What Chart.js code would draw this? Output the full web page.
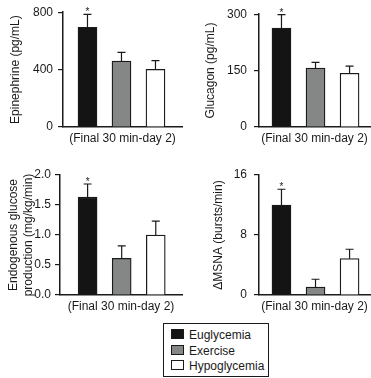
<!DOCTYPE html>
<html>
<head>
<meta charset="utf-8">
<script src="https://cdn.jsdelivr.net/npm/chart.js@4"></script>
<style>
  body { margin: 0; width: 371px; height: 378px; position: relative; overflow: hidden; background: #fff;
         font-family: "Liberation Sans", Arial, Helvetica, sans-serif; color: #1a1a1a; }
  canvas { position: absolute; }
  #legend { position: absolute; left: 163px; top: 323px; width: 106px; height: 54px; border: 1px solid #1a1a1a;
            box-sizing: border-box; padding: 4px 0 0 7px; font-size: 12px; }
  #legend div { height: 15.5px; line-height: 15.5px; white-space: nowrap; }
  #legend span.sw { display: inline-block; width: 11px; height: 8px; border: 1px solid #1a1a1a;
                    margin-right: 5px; vertical-align: 0px; }
</style>
</head>
<body>
<canvas id="epi" width="185" height="155" style="left:0;top:0"></canvas>
<canvas id="glu" width="186" height="155" style="left:185px;top:0"></canvas>
<canvas id="egp" width="185" height="160" style="left:0;top:160px"></canvas>
<canvas id="msna" width="186" height="160" style="left:185px;top:160px"></canvas>
<div id="legend"></div>
<script>
// groups (bars) in each panel
const groups = ['Euglycemia', 'Exercise', 'Hypoglycemia'];
const groupColors = ['#141414', '#858786', '#ffffff'];
const starred = [true, false, false];
const xTitle = '(Final 30 min-day 2)';

// panel values (mean and +SE)
const epinephrine = [695, 460, 402];
const epinephrineErr = [90, 60, 60];
const epinephrineTicks = [0, 400, 800];

const glucagon = [263, 157, 143];
const glucagonErr = [36, 15, 19];
const glucagonTicks = [0, 150, 300];

const egp = [1.63, 0.61, 1.0];
const egpErr = [0.22, 0.21, 0.23];
const egpTicks = [0, 0.5, 1.0, 1.5, 2.0];

const msna = [12.0, 1.05, 4.85];
const msnaErr = [2.1, 1.05, 1.25];
const msnaTicks = [0, 8, 16];

Chart.defaults.font.family = '"Liberation Sans", Arial, Helvetica, sans-serif';
Chart.defaults.font.size = 12;
Chart.defaults.color = '#1a1a1a';

// upward error whisker with a cap, plus the asterisk
const errorBars = {
    id: 'errorBars',
    afterDatasetsDraw(chart) {
        const ctx = chart.ctx;
        const yScale = chart.scales.y;
        const errs = chart.data.datasets[0].errors;
        const vals = chart.data.datasets[0].data;
        chart.getDatasetMeta(0).data.forEach((bar, i) => {
            const top = yScale.getPixelForValue(vals[i].y + errs[i]);
            ctx.save();
            ctx.strokeStyle = '#1a1a1a';
            ctx.lineWidth = 1.2;
            ctx.beginPath();
            ctx.moveTo(bar.x, bar.y);
            ctx.lineTo(bar.x, top);
            ctx.moveTo(bar.x - 4, top);
            ctx.lineTo(bar.x + 4, top);
            ctx.stroke();
            if (starred[i]) {
                ctx.fillStyle = '#1a1a1a';
                ctx.font = '10px "Liberation Sans", Arial, sans-serif';
                ctx.textAlign = 'center';
                ctx.textBaseline = 'alphabetic';
                ctx.fillText('*', bar.x, top + 1);
            }
            ctx.restore();
        });
    }
};

function makePanel(id, values, errors, tickValues, decimals, yTitle, look) {
    new Chart(document.getElementById(id), {
        type: 'bar',
        data: {
            datasets: [{
                data: values.map((v, i) => ({ x: i, y: v })),
                errors: errors,
                backgroundColor: groupColors,
                borderColor: '#1a1a1a',
                borderWidth: 1.3,
                barThickness: 19
            }]
        },
        options: {
            responsive: false,
            animation: false,
            events: [],
            layout: { padding: look.pad },
            plugins: { legend: { display: false }, tooltip: { enabled: false } },
            scales: {
                x: {
                    type: 'linear',
                    offset: false,
                    min: look.xMin,
                    max: look.xMax,
                    ticks: { display: false },
                    grid: { display: false, offset: false },
                    border: { color: '#1a1a1a', width: 1.5 },
                    title: { display: true, text: xTitle, padding: { top: 0, bottom: look.xTitlePad } },
                    afterFit: s => { s.height = look.xHeight; }
                },
                y: {
                    min: tickValues[0],
                    max: tickValues[tickValues.length - 1],
                    afterBuildTicks: s => { s.ticks = tickValues.map(v => ({ value: v })); },
                    ticks: { padding: look.tickPad, callback: v => v.toFixed(decimals) },
                    grid: { drawOnChartArea: false, drawTicks: true, tickLength: 5, color: '#1a1a1a', lineWidth: 1.2 },
                    border: { color: '#1a1a1a', width: 1.5 },
                    title: { display: true, text: yTitle, padding: { top: look.yTitlePad, bottom: 0 } },
                    afterFit: s => { s.width = look.yWidth; }
                }
            }
        },
        plugins: [errorBars]
    });
}

makePanel('epi', epinephrine, epinephrineErr, epinephrineTicks, 0, 'Epinephrine (pg/mL)',
    { pad: { top: 7, right: 3, bottom: 0, left: 0 }, yWidth: 63, xHeight: 28, xTitlePad: 9.5,
      yTitlePad: 8.8, tickPad: 5, xMin: -0.72, xMax: 2.78 });
makePanel('glu', glucagon, glucagonErr, glucagonTicks, 0, 'Glucagon (pg/mL)',
    { pad: { top: 7, right: 1, bottom: 0, left: 0 }, yWidth: 74, xHeight: 28, xTitlePad: 9.5,
      yTitlePad: 18, tickPad: 7, xMin: -0.66, xMax: 2.6 });
makePanel('egp', egp, egpErr, egpTicks, 1, ['Endogenous glucose', 'production (mg/kg/min)'],
    { pad: { top: 15, right: 3, bottom: 0, left: 0 }, yWidth: 60, xHeight: 25, xTitlePad: 6.5,
      yTitlePad: 6.8, tickPad: 4, xMin: -0.81, xMax: 2.77 });
makePanel('msna', msna, msnaErr, msnaTicks, 0, '\u0394MSNA (bursts/min)',
    { pad: { top: 15, right: 1, bottom: 0, left: 0 }, yWidth: 74, xHeight: 25, xTitlePad: 6.5,
      yTitlePad: 26.3, tickPad: 7, xMin: -0.66, xMax: 2.6 });

// legend
const legend = document.getElementById('legend');
groups.forEach((g, i) => {
    const row = document.createElement('div');
    const sw = document.createElement('span');
    sw.className = 'sw';
    sw.style.background = groupColors[i];
    row.appendChild(sw);
    row.appendChild(document.createTextNode(g));
    legend.appendChild(row);
});
</script>
</body>
</html>
